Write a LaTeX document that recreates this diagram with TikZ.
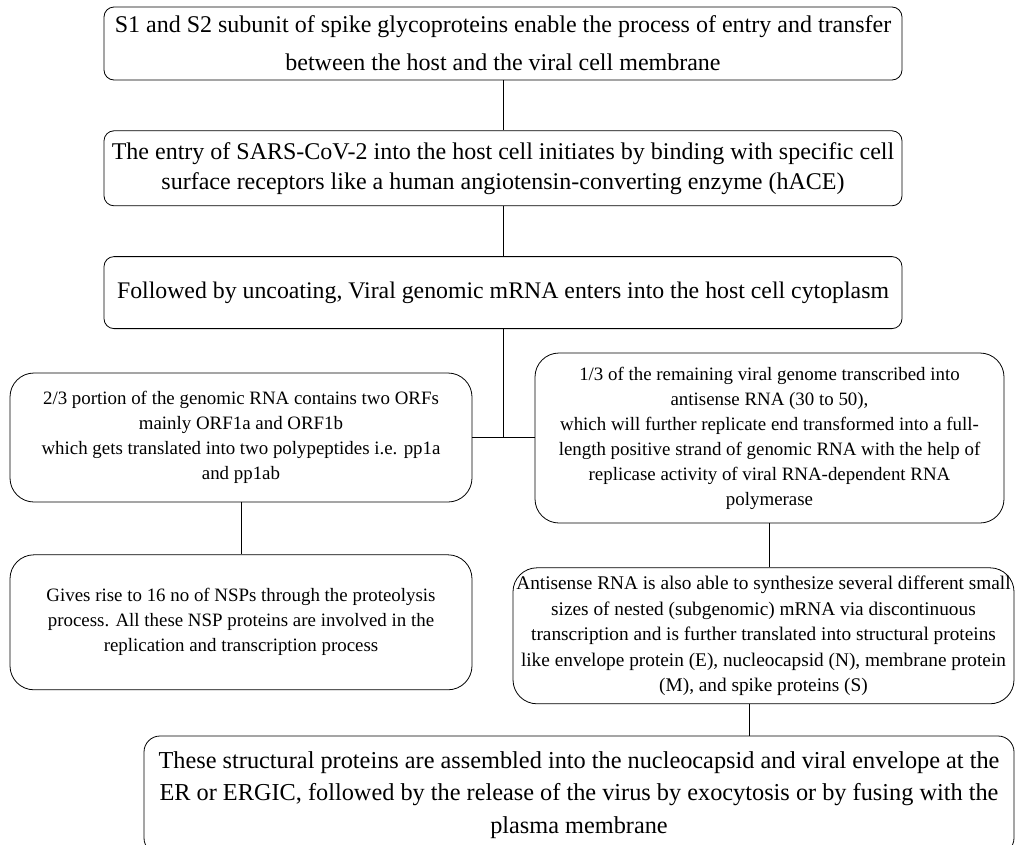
\documentclass[tikz,border=0pt]{standalone}
\usepackage{fontspec}
\setmainfont{Liberation Serif}
\usetikzlibrary{positioning}

\begin{document}
\begin{tikzpicture}[x=1pt,y=1pt,
  box/.style={draw,line width=0.8pt,rounded corners=10pt,align=center,inner sep=0pt},
  wide/.style={box,minimum width=798pt},
  small/.style={box,rounded corners=24pt,font=\fontsize{18.9}{25}\selectfont},
  link/.style={line width=0.8pt}]
  \clip (0,0) rectangle (1015,-844);
  \node[wide,minimum height=73pt,font=\fontsize{24}{38}\selectfont] (spike) at (503,-43.5)
    {S1 and S2 subunit of spike glycoproteins enable the process of entry and transfer\\
     between the host and the viral cell membrane};
  \node[wide,minimum height=75pt,below=50pt of spike,font=\fontsize{24}{30}\selectfont] (entry)
    {The entry of SARS-CoV-2 into the host cell initiates by binding with specific cell\\
     surface receptors like a human angiotensin-converting enzyme (hACE)};
  \node[wide,minimum height=72pt,below=50pt of entry,font=\fontsize{23.8}{30}\selectfont] (uncoat)
    {Followed by uncoating, Viral genomic mRNA enters into the host cell cytoplasm};
  \node[small,minimum width=462pt,minimum height=129pt] (orf) at (241,-437.5)
    {2/3 portion of the genomic RNA contains two ORFs\\
     mainly ORF1a and ORF1b\\
     which gets translated into two polypeptides i.e. pp1a\\
     and pp1ab};
  \node[small,minimum width=469pt,minimum height=170pt] (anti) at (769.5,-438)
    {1/3 of the remaining viral genome transcribed into\\
     antisense RNA (30 to 50),\\
     which will further replicate end transformed into a full-\\
     length positive strand of genomic RNA with the help of\\
     replicase activity of viral RNA-dependent RNA\\
     polymerase};
  \node[small,minimum width=462pt,minimum height=135pt,below=52pt of orf] (nsp)
    {Gives rise to 16 no of NSPs through the proteolysis\\
     process. All these NSP proteins are involved in the\\
     replication and transcription process};
  \node[small,minimum width=501pt,minimum height=136pt,below=44pt of anti,xshift=-6pt,
    font=\fontsize{19.3}{25.5}\selectfont] (subg)
    {Antisense RNA is also able to synthesize several different small\\
     sizes of nested (subgenomic) mRNA via discontinuous\\
     transcription and is further translated into structural proteins\\
     like envelope protein (E), nucleocapsid (N), membrane protein\\
     (M), and spike proteins (S)};
  \node[box,rounded corners=16pt,minimum width=870pt,minimum height=118pt,
    font=\fontsize{24.3}{32.5}\selectfont] (final) at (579,-795)
    {These structural proteins are assembled into the nucleocapsid and viral envelope at the\\
     ER or ERGIC, followed by the release of the virus by exocytosis or by fusing with the\\
     plasma membrane};
  \coordinate (split) at (uncoat.south |- orf.east);
  \draw[link] (spike) -- (entry);
  \draw[link] (entry) -- (uncoat);
  \draw[link] (uncoat) -- (split);
  \draw[link] (orf.east) -- (orf.east -| anti.west);
  \draw[link] (orf) -- (nsp);
  \draw[link] (anti) -- (anti.south |- subg.north);
  \draw[link] ([xshift=-14.5pt]subg.south) -- ([xshift=-14.5pt]subg.south |- final.north);
\end{tikzpicture}
\end{document}
